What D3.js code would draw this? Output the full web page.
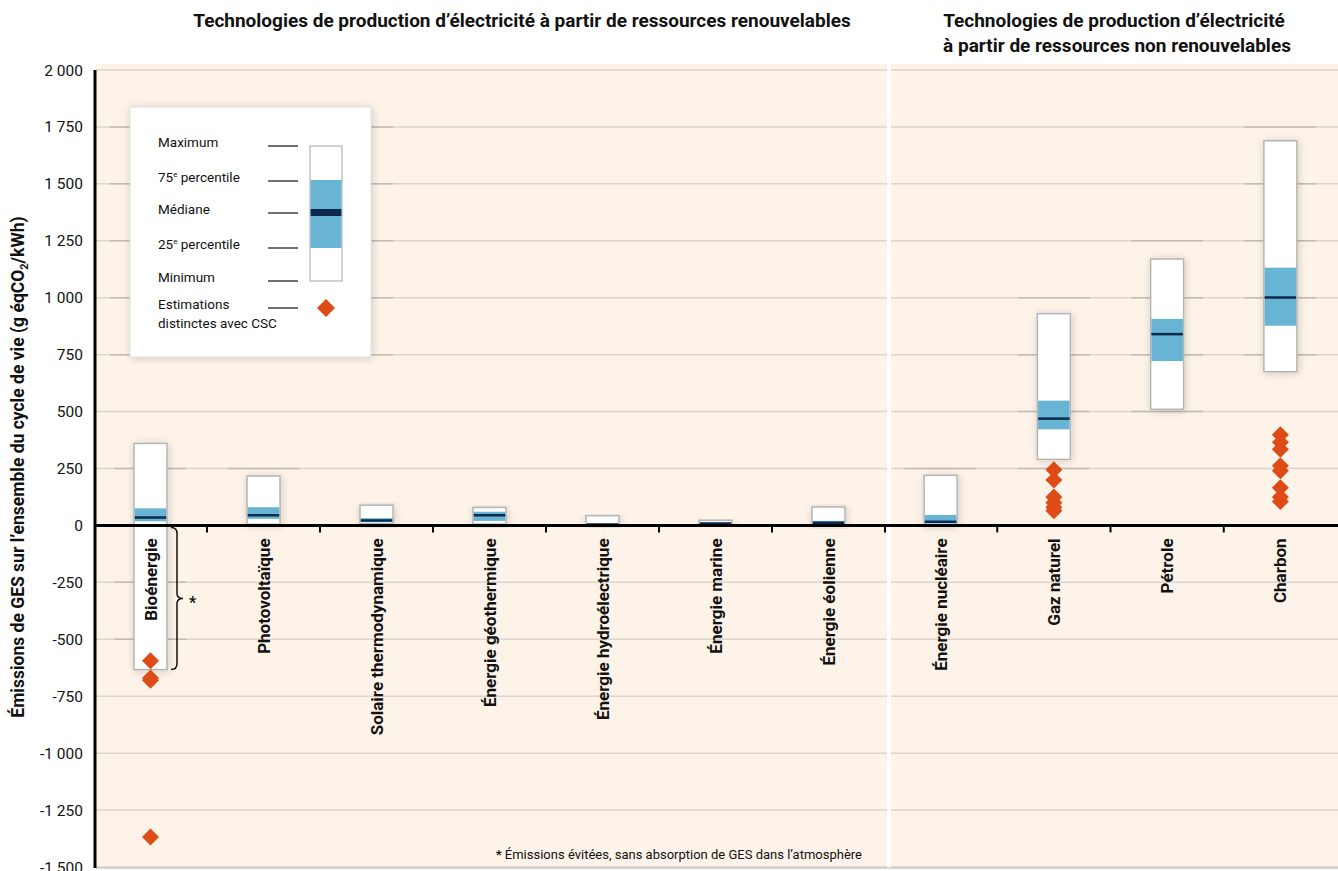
<!DOCTYPE html>
<html>
<head>
<meta charset="utf-8">
<script src="https://cdn.jsdelivr.net/npm/d3@7"></script>
<style>
  body { margin: 0; background: #fff; }
  text { font-family: Roboto, "Noto Sans", sans-serif; fill: #111; }
</style>
</head>
<body>
<svg id="chart"></svg>
<script>
// categories
const renewables = ["Bioénergie", "Photovoltaïque", "Solaire thermodynamique", "Énergie géothermique",
    "Énergie hydroélectrique", "Énergie marine", "Énergie éolienne"];
const nonRenewables = ["Énergie nucléaire", "Gaz naturel", "Pétrole", "Charbon"];

// box values (g éqCO2/kWh), renewables first then non renewables
const minimum      = [-633,   5,  7,  6,  0,  2,  2,   1, 290,  510,  675];
const percentile25 = [  18,  29, 14, 20,  3,  6,  8,   8, 422,  722,  877];
const median       = [  35,  45, 22, 45,  4,  8, 12,  16, 469,  840, 1001];
const percentile75 = [  75,  80, 32, 60,  7, 12, 20,  46, 548,  907, 1132];
const maximum      = [ 360, 217, 89, 79, 43, 23, 81, 220, 930, 1170, 1689];

// distinct estimates with CCS
const ccsEstimates = [
    [-594, -670, -680, -1368], [], [], [], [], [], [],
    [], [245, 200, 125, 100, 80, 65], [], [398, 365, 335, 262, 240, 165, 125, 105]
];

const yTicks = d3.range(-1500, 2001, 250);

const width = 1338, height = 871;
const svg = d3.select('#chart').attr('width', width).attr('height', height);

const y = d3.scaleLinear().domain([-1500, 2000]).range([867, 70]);
const xLeft = d3.scaleBand().domain(renewables).range([94, 885]);
const xRight = d3.scaleBand().domain(nonRenewables).range([884, 1337]);
const allCats = renewables.concat(nonRenewables);
const xCenter = c => renewables.includes(c) ? xLeft(c) + xLeft.bandwidth() / 2 : xRight(c) + xRight.bandwidth() / 2;

const data = allCats.map((c, i) => ({
    name: c, min: minimum[i], q1: percentile25[i], med: median[i], q3: percentile75[i], max: maximum[i], ccs: ccsEstimates[i]
}));

const bg = '#fdf3e8', gridLight = '#dcd6cf', gridDark = '#c2bcb5';
const blue = '#67b4d5', navy = '#0c2b4c', orange = '#df4b17';
const boxW = 33;

// shadow filter
const defs = svg.append('defs');
const f = defs.append('filter').attr('id', 'shadow').attr('x', '-60%').attr('y', '-20%').attr('width', '220%').attr('height', '140%');
f.append('feGaussianBlur').attr('in', 'SourceAlpha').attr('stdDeviation', 4);
f.append('feOffset').attr('dx', 1).attr('dy', 1).attr('result', 'blur');
f.append('feComponentTransfer').append('feFuncA').attr('type', 'linear').attr('slope', 0.18);
const merge = f.append('feMerge');
merge.append('feMergeNode');
merge.append('feMergeNode').attr('in', 'SourceGraphic');

// panel backgrounds
svg.append('rect').attr('x', 96).attr('y', 64).attr('width', 791).attr('height', 804).attr('fill', bg);
svg.append('rect').attr('x', 891).attr('y', 64).attr('width', width - 891).attr('height', 804).attr('fill', bg);

// gridlines
const grid = svg.append('g');
grid.selectAll('line.light')
    .data(yTicks.filter(d => d !== 0))
    .join('line')
    .attr('x1', 96).attr('x2', width)
    .attr('y1', d => y(d)).attr('y2', d => y(d))
    .attr('stroke', gridLight).attr('stroke-width', 1.5);

// darker segments where box shadows fall on gridlines
const segs = [];
data.forEach(d => {
    yTicks.forEach(t => {
        if (t !== 0 && t >= d.min - 90 && t <= d.max + 90) segs.push({ c: d.name, t: t });
    });
});
grid.selectAll('line.dark')
    .data(segs)
    .join('line')
    .attr('x1', d => xCenter(d.c) - 36).attr('x2', d => xCenter(d.c) + 36)
    .attr('y1', d => y(d.t)).attr('y2', d => y(d.t))
    .attr('stroke', gridDark).attr('stroke-width', 1.5);

// legend shadow on gridlines
const lg = { x: 130, y: 107, w: 241, h: 250 };
grid.selectAll('line.lgdark')
    .data(yTicks.filter(t => y(t) > lg.y && y(t) < lg.y + lg.h))
    .join('line')
    .attr('x1', lg.x - 20).attr('x2', lg.x + lg.w + 22)
    .attr('y1', d => y(d)).attr('y2', d => y(d))
    .attr('stroke', gridDark).attr('stroke-width', 1.5);

// panel separator
svg.append('rect').attr('x', 887).attr('y', 64).attr('width', 4).attr('height', 804).attr('fill', '#fff');
svg.append('line').attr('x1', 96).attr('x2', width).attr('y1', 868).attr('y2', 868).attr('stroke', '#c9c9c9').attr('stroke-width', 1.5);

// boxes
const boxes = svg.append('g').selectAll('g').data(data).join('g');
boxes.append('rect')
    .attr('x', d => xCenter(d.name) - boxW / 2).attr('width', boxW)
    .attr('y', d => y(d.max)).attr('height', d => y(d.min) - y(d.max))
    .attr('fill', '#fff').attr('stroke', '#b4b4b4').attr('stroke-width', 1.5)
    .attr('filter', 'url(#shadow)');
boxes.append('rect')
    .attr('x', d => xCenter(d.name) - boxW / 2 + 0.75).attr('width', boxW - 1.5)
    .attr('y', d => y(d.q3)).attr('height', d => y(d.q1) - y(d.q3))
    .attr('fill', blue);
boxes.append('line')
    .attr('x1', d => xCenter(d.name) - boxW / 2 + 0.75).attr('x2', d => xCenter(d.name) + boxW / 2 - 0.75)
    .attr('y1', d => y(d.med)).attr('y2', d => y(d.med))
    .attr('stroke', navy).attr('stroke-width', 2.5);

// zero axis and ticks
svg.append('line').attr('x1', 94).attr('x2', width).attr('y1', y(0)).attr('y2', y(0))
    .attr('stroke', '#000').attr('stroke-width', 3);
const boundaries = renewables.slice(1).map(c => xLeft(c)).concat([xLeft.range()[1]], nonRenewables.slice(1).map(c => xRight(c)));
svg.append('g').selectAll('line').data(boundaries).join('line')
    .attr('x1', d => d).attr('x2', d => d)
    .attr('y1', y(0)).attr('y2', y(0) + 7)
    .attr('stroke', '#000').attr('stroke-width', 2);

// ccs diamonds
const ccsPts = [];
data.forEach(d => d.ccs.forEach(v => ccsPts.push({ c: d.name, v: v })));
svg.append('g').selectAll('path').data(ccsPts).join('path')
    .attr('d', d => {
        const cx = xCenter(d.c), cy = y(d.v);
        return `M${cx},${cy - 8.5}L${cx + 8.5},${cy}L${cx},${cy + 8.5}L${cx - 8.5},${cy}Z`;
    })
    .attr('fill', orange);

// category labels
svg.append('g').selectAll('text').data(allCats).join('text')
    .attr('transform', c => `translate(${xCenter(c) + 6},${y(0) + 13}) rotate(-90)`)
    .attr('text-anchor', 'end')
    .attr('font-size', 17).attr('font-weight', 700)
    .text(c => c);

// bioenergy brace
const bx = xCenter(renewables[0]) + boxW / 2 + 12;
const yTop = y(0) + 2, yBot = y(minimum[0]), yMid = (yTop + yBot) / 2;
svg.append('path')
    .attr('d', `M${bx - 8},${yTop} q6,0 6,6 L${bx - 2},${yMid - 5} q0,5 6,5 q-6,0 -6,5 L${bx - 2},${yBot - 6} q0,6 -6,6`)
    .attr('fill', 'none').attr('stroke', '#111').attr('stroke-width', 1.5);
svg.append('text').attr('x', bx + 10).attr('y', yMid + 9).attr('font-size', 16).attr('font-weight', 700).text('*');

// y axis
svg.append('line').attr('x1', 95).attr('x2', 95).attr('y1', 70).attr('y2', 868)
    .attr('stroke', '#000').attr('stroke-width', 3);
const fmt = v => {
    const s = Math.abs(v).toString();
    const withSpace = s.length > 3 ? s.slice(0, s.length - 3) + ' ' + s.slice(-3) : s;
    return (v < 0 ? '-' : '') + withSpace;
};
svg.append('g').selectAll('text').data(yTicks).join('text')
    .attr('x', 83).attr('y', d => y(d) + 5.5)
    .attr('text-anchor', 'end').attr('font-size', 15.5)
    .text(fmt);

// y axis title
const yt = svg.append('text')
    .attr('transform', `translate(24,467) rotate(-90)`)
    .attr('text-anchor', 'middle').attr('font-size', 17.5).attr('font-weight', 700);
yt.append('tspan').text('Émissions de GES sur l\u2019ensemble du cycle de vie  (g éqCO');
yt.append('tspan').attr('font-size', 11).attr('dy', 4).text('2');
yt.append('tspan').attr('dy', -4).text('/kWh)');

// panel titles
svg.append('text').attr('x', 522).attr('y', 27).attr('text-anchor', 'middle')
    .attr('font-size', 19).attr('font-weight', 700)
    .text('Technologies de production d\u2019électricité à partir de ressources renouvelables');
svg.append('text').attr('x', 1114).attr('y', 27).attr('text-anchor', 'middle')
    .attr('font-size', 19).attr('font-weight', 700)
    .text('Technologies de production d\u2019électricité');
svg.append('text').attr('x', 1117).attr('y', 52).attr('text-anchor', 'middle')
    .attr('font-size', 19).attr('font-weight', 700)
    .text('à partir de ressources non renouvelables');

// footnote
const fn = svg.append('text').attr('x', 862).attr('y', 859).attr('text-anchor', 'end').attr('font-size', 13);
fn.append('tspan').attr('font-weight', 700).text('* ');
fn.append('tspan').text('Émissions évitées, sans absorption de GES dans l\u2019atmosphère');

// legend
const leg = svg.append('g');
leg.append('rect').attr('x', lg.x).attr('y', lg.y).attr('width', lg.w).attr('height', lg.h)
    .attr('fill', '#fff').attr('stroke', '#e2ddd6').attr('filter', 'url(#shadow)');
const legRows = [
    { label: 'Maximum', ly: 146 },
    { label: '75', sup: 'e', rest: ' percentile', ly: 181 },
    { label: 'Médiane', ly: 213 },
    { label: '25', sup: 'e', rest: ' percentile', ly: 248 },
    { label: 'Minimum', ly: 281 },
    { label: 'Estimations', second: 'distinctes avec CSC', ly: 308 }
];
legRows.forEach(r => {
    const t = leg.append('text').attr('x', 158).attr('y', r.ly + 1).attr('font-size', 13.5);
    t.append('tspan').text(r.label);
    if (r.sup) {
        t.append('tspan').attr('font-size', 8).attr('dy', -5).text(r.sup);
        t.append('tspan').attr('dy', 5).text(r.rest);
    }
    if (r.second) leg.append('text').attr('x', 158).attr('y', r.ly + 20).attr('font-size', 13.5).text(r.second);
    leg.append('line').attr('x1', 268).attr('x2', 298).attr('y1', r.ly).attr('y2', r.ly)
        .attr('stroke', '#111').attr('stroke-width', 1.2);
});
leg.append('rect').attr('x', 310).attr('y', 146).attr('width', 32).attr('height', 135)
    .attr('fill', '#fff').attr('stroke', '#b4b4b4').attr('stroke-width', 1.2);
leg.append('rect').attr('x', 310.6).attr('y', 180).attr('width', 30.8).attr('height', 68).attr('fill', blue);
leg.append('rect').attr('x', 310.6).attr('y', 209).attr('width', 30.8).attr('height', 7).attr('fill', navy);
leg.append('path').attr('d', 'M326,299L335,308L326,317L317,308Z').attr('fill', orange);
</script>
</body>
</html>
